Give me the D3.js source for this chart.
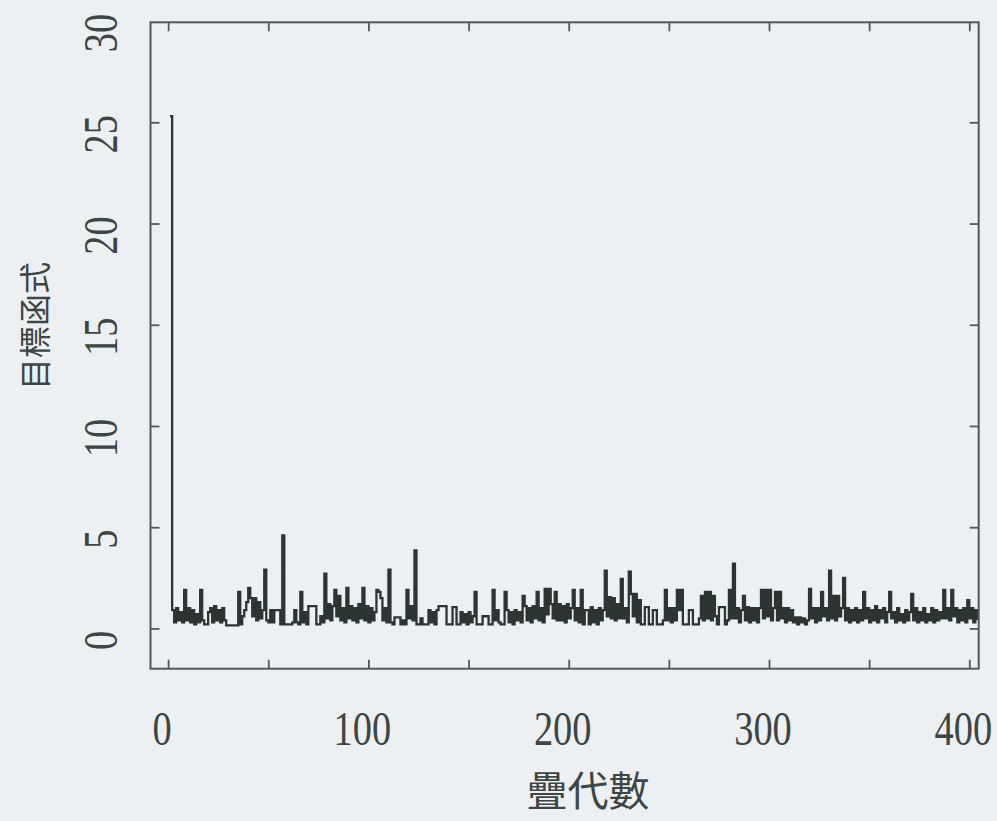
<!DOCTYPE html>
<html>
<head>
<meta charset="utf-8">
<script src="https://cdn.jsdelivr.net/npm/d3@7"></script>
<style>
  html, body { margin: 0; padding: 0; background: #edf0f2; }
  svg { display: block; }
</style>
</head>
<body>
<div id="chart"></div>
<script>
// objective value per iteration, starting at iteration 1
const firstIteration = 1
const objective = [
  25.3, 0.9, 0.3, 1.0, 0.4, 0.8, 0.3, 1.9, 0.4, 1.0,
  0.3, 0.9, 0.2, 0.7, 0.3, 1.9, 0.4, 0.2, 0.2, 0.8,
  1.0, 0.3, 1.1, 0.4, 0.9, 0.3, 1.0, 0.4, 0.15, 0.15,
  0.15, 0.15, 0.15, 0.15, 1.8, 0.2, 0.6, 0.9, 1.3, 2.0,
  1.5, 0.6, 1.5, 0.4, 1.3, 0.5, 0.9, 2.9, 0.4, 0.3,
  0.9, 0.3, 0.9, 0.9, 0.9, 0.2, 4.6, 0.2, 0.2, 0.2,
  0.2, 0.3, 0.9, 0.3, 0.2, 1.8, 0.3, 0.8, 0.2, 1.1,
  1.1, 1.1, 1.1, 0.2, 0.2, 0.6, 0.3, 2.7, 0.5, 1.2,
  0.4, 1.1, 1.9, 0.6, 1.6, 0.4, 1.0, 0.3, 2.0, 0.5,
  1.1, 0.4, 1.0, 0.3, 1.2, 0.5, 2.0, 0.4, 1.1, 0.3,
  1.0, 0.4, 0.8, 1.9, 1.8, 1.5, 0.4, 1.0, 0.3, 2.9,
  0.3, 0.2, 0.55, 0.55, 0.55, 0.2, 0.4, 0.2, 1.9, 0.5,
  1.1, 0.4, 3.85, 0.2, 0.2, 0.5, 0.2, 0.2, 0.2, 0.9,
  0.3, 0.8, 0.2, 0.9, 1.1, 1.1, 1.1, 1.1, 0.2, 0.2,
  0.2, 1.05, 1.05, 0.2, 0.2, 0.8, 0.3, 0.7, 0.2, 0.8,
  0.3, 0.6, 1.8, 0.2, 0.2, 0.2, 0.6, 0.6, 0.6, 0.2,
  0.2, 1.9, 0.4, 0.9, 0.3, 0.2, 0.2, 1.8, 0.9, 0.3,
  0.8, 0.2, 0.9, 0.4, 0.8, 0.3, 1.6, 1.1, 0.4, 1.0,
  0.3, 1.1, 0.5, 1.8, 0.4, 1.0, 0.3, 1.95, 0.7, 1.95,
  1.2, 0.5, 1.8, 0.4, 1.2, 0.4, 1.1, 0.3, 1.2, 0.5,
  1.0, 1.9, 0.4, 1.0, 0.3, 1.9, 0.2, 0.9, 0.9, 0.2,
  1.05, 0.3, 0.9, 0.2, 1.0, 0.4, 0.9, 2.85, 0.6, 1.55,
  0.5, 1.5, 0.4, 1.2, 0.5, 2.45, 0.5, 1.0, 0.3, 2.8,
  1.7, 0.6, 1.7, 0.3, 1.4, 0.2, 0.2, 1.05, 1.05, 0.2,
  0.2, 0.9, 0.9, 0.2, 0.2, 0.2, 0.4, 1.9, 0.4, 1.0,
  0.3, 1.0, 0.4, 1.9, 0.9, 1.9, 0.2, 0.2, 0.2, 0.9,
  0.9, 0.2, 0.2, 0.2, 0.5, 1.6, 0.4, 1.8, 0.5, 1.8,
  0.4, 1.6, 0.6, 0.2, 1.05, 1.05, 1.05, 0.2, 0.4, 1.9,
  0.5, 3.2, 0.5, 1.0, 0.3, 0.9, 1.6, 0.4, 1.05, 0.3,
  1.0, 0.4, 1.0, 0.3, 1.0, 1.9, 0.5, 1.9, 0.6, 1.9,
  0.4, 1.0, 1.8, 0.4, 1.8, 0.5, 1.0, 0.3, 1.0, 0.4,
  0.9, 0.3, 0.55, 0.2, 0.55, 0.3, 0.5, 0.2, 0.4, 1.95,
  0.5, 1.0, 0.3, 1.0, 0.4, 1.8, 0.6, 1.0, 0.4, 2.85,
  0.5, 1.6, 0.4, 1.6, 0.6, 1.0, 2.5, 0.4, 1.0, 0.3,
  0.9, 0.4, 1.0, 0.3, 0.9, 0.4, 1.8, 0.5, 1.0, 0.3,
  0.9, 0.4, 1.1, 0.3, 0.9, 0.5, 1.0, 0.3, 0.8, 1.8,
  0.5, 0.8, 0.3, 1.0, 0.4, 0.7, 0.3, 0.9, 0.4, 0.8,
  1.7, 0.4, 1.0, 0.3, 0.8, 0.4, 1.0, 0.3, 0.7, 0.4,
  1.0, 0.3, 0.9, 0.4, 0.8, 0.5, 1.9, 0.5, 1.0, 0.4,
  1.9, 0.6, 1.0, 0.3, 0.9, 0.4, 1.0, 0.3, 1.4, 0.5,
  1.0, 0.3, 0.9, 0.4
]

const xTicks = [0, 50, 100, 150, 200, 250, 300, 350, 400]
const xTickLabels = [0, 100, 200, 300, 400]
const yTicks = [0, 5, 10, 15, 20, 25, 30]
const yTickLabels = [0, 5, 10, 15, 20, 25, 30]
const xTitle = "疊代數"
const yTitle = "目標函式"

const width = 997
const height = 821
const marginLeft = 150.5
const marginRight = 18.3
const marginTop = 22.3
const marginBottom = 152.3
const xDomain = [-8.8, 404.7]
const yDomain = [-1.99, 29.94]
const tickLength = 9

const inkColor = "#2c3434"
const boxColor = "#4f5a59"
const textColor = "#3c4645"
const numFont = "'Liberation Serif', 'DejaVu Serif', serif"
const cjkFont = "'Noto Sans CJK TC', 'Noto Sans CJK SC', sans-serif"

const xScale = d3.scaleLinear(xDomain, [marginLeft, width - marginRight])
const yScale = d3.scaleLinear(yDomain, [height - marginBottom, marginTop])

const svg = d3.select("#chart")
  .append("svg")
  .attr("width", width)
  .attr("height", height)
  .attr("viewBox", [0, 0, width, height])

svg.append("rect")
  .attr("width", width)
  .attr("height", height)
  .attr("fill", "#edf0f2")

const plotBottom = height - marginBottom
const plotRight = width - marginRight

// inward ticks on all four sides, no labels from the axis itself
const styleAxis = g => g
  .call(g => g.select(".domain").remove())
  .call(g => g.selectAll(".tick line").attr("stroke", boxColor).attr("stroke-width", 1.8))
  .call(g => g.selectAll(".tick text").remove())

svg.append("g")
  .attr("transform", `translate(0,${plotBottom})`)
  .call(d3.axisBottom(xScale).tickValues(xTicks).tickSize(-tickLength))
  .call(styleAxis)

svg.append("g")
  .attr("transform", `translate(0,${marginTop})`)
  .call(d3.axisTop(xScale).tickValues(xTicks).tickSize(-tickLength))
  .call(styleAxis)

svg.append("g")
  .attr("transform", `translate(${marginLeft},0)`)
  .call(d3.axisLeft(yScale).tickValues(yTicks.filter(d => d < 30)).tickSize(-tickLength))
  .call(styleAxis)

svg.append("g")
  .attr("transform", `translate(${plotRight},0)`)
  .call(d3.axisRight(yScale).tickValues(yTicks.filter(d => d < 30)).tickSize(-tickLength))
  .call(styleAxis)

// the data, drawn as a step line
const line = d3.line()
  .x((d, i) => xScale(firstIteration + i))
  .y(d => yScale(d))
  .curve(d3.curveStepAfter)

svg.append("path")
  .datum(objective)
  .attr("fill", "none")
  .attr("stroke", inkColor)
  .attr("stroke-width", 2.3)
  .attr("stroke-linejoin", "miter")
  .attr("d", line)

svg.append("rect")
  .attr("x", marginLeft)
  .attr("y", marginTop)
  .attr("width", plotRight - marginLeft)
  .attr("height", plotBottom - marginTop)
  .attr("fill", "none")
  .attr("stroke", boxColor)
  .attr("stroke-width", 2)

// tick labels
svg.append("g")
  .selectAll("text")
  .data(xTickLabels)
  .join("text")
  .attr("transform", d => `translate(${xScale(d) - 6},745) scale(0.8,1)`)
  .attr("text-anchor", "middle")
  .attr("font-family", numFont)
  .attr("font-size", 48)
  .attr("fill", textColor)
  .text(d => d)

svg.append("g")
  .selectAll("text")
  .data(yTickLabels)
  .join("text")
  .attr("transform", d => `translate(117,${yScale(d) + 12}) rotate(-90) scale(0.8,1)`)
  .attr("text-anchor", "middle")
  .attr("font-family", numFont)
  .attr("font-size", 48)
  .attr("fill", textColor)
  .text(d => d)

// axis titles
svg.append("text")
  .attr("x", 588)
  .attr("y", 806)
  .attr("text-anchor", "middle")
  .attr("font-family", cjkFont)
  .attr("font-size", 41)
  .attr("fill", textColor)
  .text(xTitle)

svg.append("text")
  .attr("transform", "translate(47,326) rotate(-90)")
  .attr("text-anchor", "middle")
  .attr("font-family", cjkFont)
  .attr("font-size", 32)
  .attr("fill", textColor)
  .text(yTitle)
</script>
</body>
</html>
